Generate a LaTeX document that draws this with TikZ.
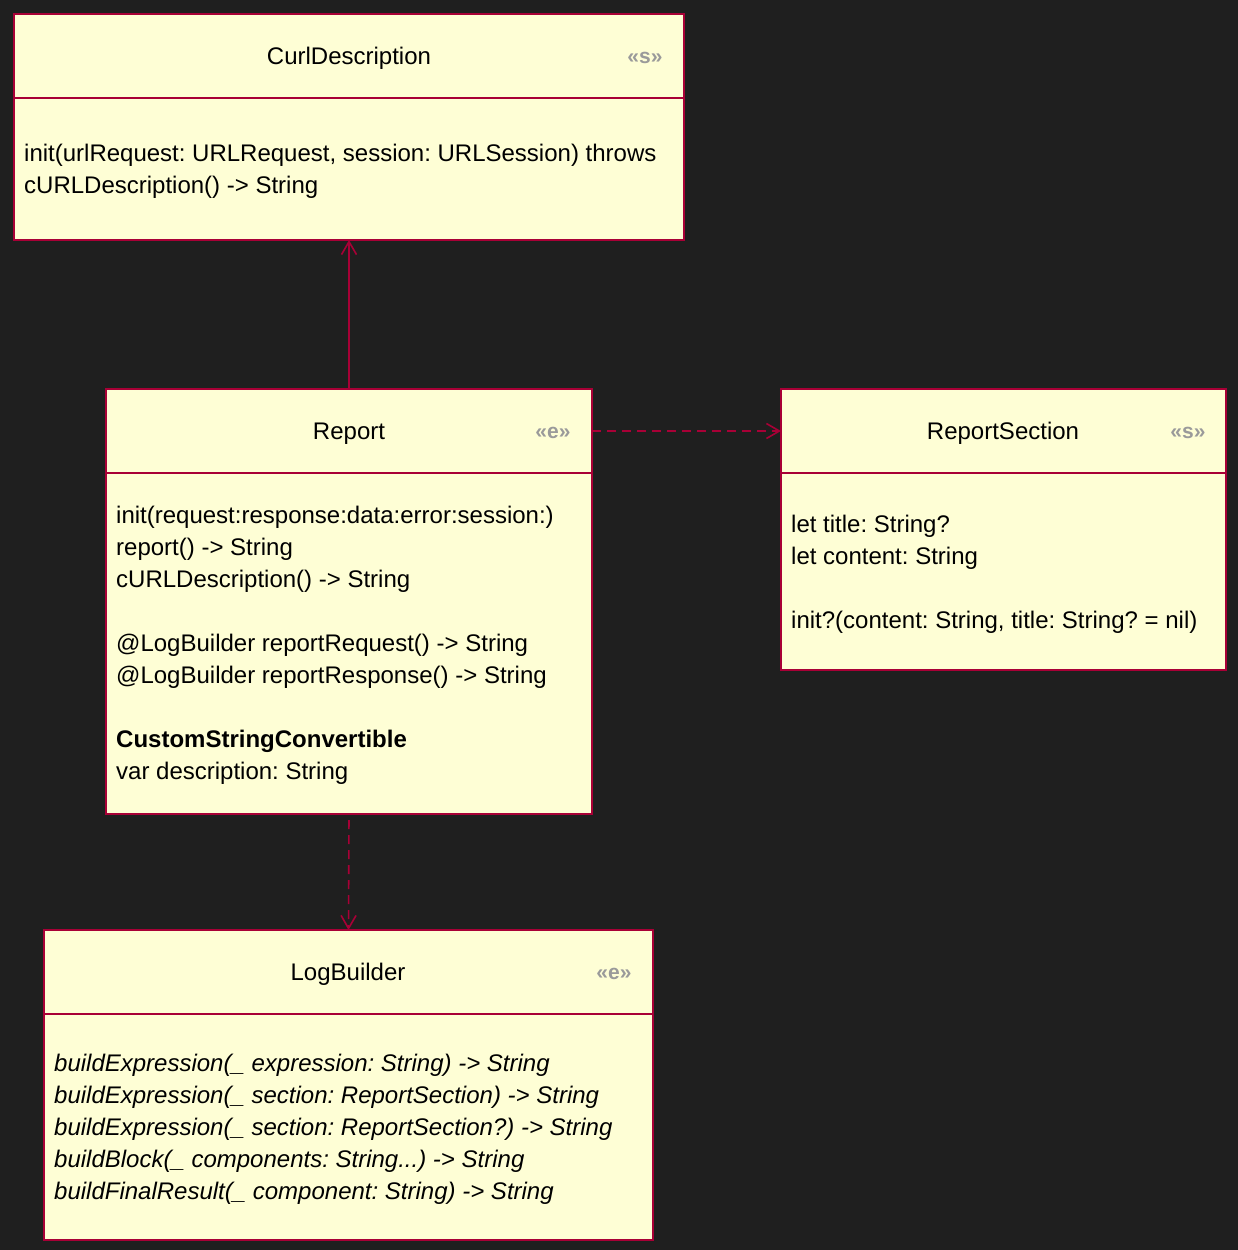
\documentclass[tikz,border=0pt]{standalone}
\usepackage{fontspec}
\setmainfont{Liberation Sans}
\usetikzlibrary{arrows.meta}
\frenchspacing
\definecolor{bg}{HTML}{1F1F1F}
\definecolor{boxfill}{HTML}{FEFED5}
\definecolor{boxline}{HTML}{A80036}
\definecolor{stereo}{HTML}{9A9A9A}
\tikzset{
  umlbox/.style={draw=boxline, fill=boxfill, line width=2pt, inner sep=0pt, outer sep=0pt},
  sepline/.style={draw=boxline, line width=1.5pt},
  titletext/.style={anchor=base, inner sep=0pt, font=\fontsize{24}{28}\selectfont},
  stereotext/.style={anchor=base, inner sep=0pt, text=stereo, font=\fontsize{21}{24}\selectfont\bfseries},
  membertext/.style={anchor=base west, inner sep=0pt, font=\fontsize{24}{28}\selectfont},
  italtext/.style={membertext, font=\fontsize{24}{28}\selectfont\itshape},
  boldtext/.style={membertext, font=\fontsize{24}{28}\selectfont\bfseries},
  conn/.style={draw=boxline, line width=1.6pt, -{Straight Barb[length=13pt,width=15pt,line width=1.6pt]}},
  dashconn/.style={conn, dash pattern=on 9pt off 6pt},
}
\begin{document}
\begin{tikzpicture}[x=1pt,y=-1pt]
\fill[bg] (0,0) rectangle (1238,1250);
\useasboundingbox (0,0) rectangle (1238,1250);

% CurlDescription
\node[umlbox, minimum width=670pt, minimum height=226pt] (curl) at (349,127) {};
\draw[sepline] (14,98) -- (684,98);
\node[titletext] (curltitle) at (349,64.5) {CurlDescription};
\node[stereotext] (curlst) at (645,63) {«s»};
\node[membertext] (curl1) at (24,161.5) {init(urlRequest: URLRequest, session: URLSession) throws};
\node[membertext] (curl2) at (24,193.5) {cURLDescription() -> String};

% Report
\node[umlbox, minimum width=486pt, minimum height=425pt] (report) at (349,601.5) {};
\draw[sepline] (106,473) -- (592,473);
\node[titletext] (reptitle) at (349,439.5) {Report};
\node[stereotext] (repst) at (553,438) {«e»};
\node[membertext] (rep1) at (116,523.5) {init(request:response:data:error:session:)};
\node[membertext] (rep2) at (116,555.5) {report() -> String};
\node[membertext] (rep3) at (116,587.5) {cURLDescription() -> String};
\node[membertext] (rep4) at (116,651.5) {@LogBuilder reportRequest() -> String};
\node[membertext] (rep5) at (116,683.5) {@LogBuilder reportResponse() -> String};
\node[boldtext] (rep6) at (116,747.5) {CustomStringConvertible};
\node[membertext] (rep7) at (116,779.5) {var description: String};

% ReportSection
\node[umlbox, minimum width=445pt, minimum height=281pt] (rsec) at (1003.5,529.5) {};
\draw[sepline] (781,473) -- (1226,473);
\node[titletext] (rsectitle) at (1003,439.5) {ReportSection};
\node[stereotext] (rsecst) at (1188,438) {«s»};
\node[membertext] (rsec1) at (791,532.5) {let title: String?};
\node[membertext] (rsec2) at (791,564.5) {let content: String};
\node[membertext] (rsec3) at (791,628.5) {init?(content: String, title: String? = nil)};

% LogBuilder
\node[umlbox, minimum width=609pt, minimum height=310pt] (logb) at (348.5,1085) {};
\draw[sepline] (44,1014) -- (653,1014);
\node[titletext] (logtitle) at (348,980.5) {LogBuilder};
\node[stereotext] (logst) at (614,979) {«e»};
\node[italtext] (log1) at (54,1071.5) {buildExpression(\_ expression: String) -> String};
\node[italtext] (log2) at (54,1103.5) {buildExpression(\_ section: ReportSection) -> String};
\node[italtext] (log3) at (54,1135.5) {buildExpression(\_ section: ReportSection?) -> String};
\node[italtext] (log4) at (54,1167.5) {buildBlock(\_ components: String...) -> String};
\node[italtext] (log5) at (54,1199.5) {buildFinalResult(\_ component: String) -> String};

% Connectors
\draw[conn] (report.north) -- (curl.south);
\draw[dashconn] ([yshift=-42pt]report.north east) -- ([yshift=-42pt]rsec.north west);
\draw[dashconn, shorten <=6pt] (report.south) -- (logb.north);
\end{tikzpicture}
\end{document}
